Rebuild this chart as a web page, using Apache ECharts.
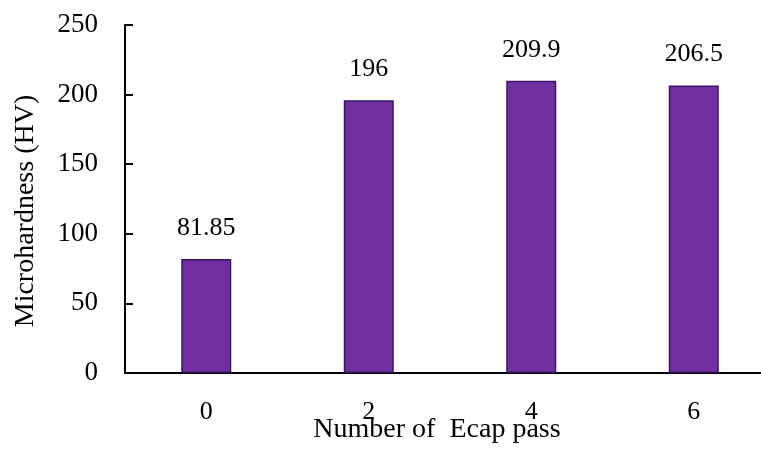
<!DOCTYPE html>
<html>
<head>
<meta charset="utf-8">
<script src="https://cdn.jsdelivr.net/npm/echarts@6/dist/echarts.min.js"></script>
<style>
  html, body { margin: 0; padding: 0; background: #fff; }
  #chart { width: 761px; height: 450px; }
</style>
</head>
<body>
<div id="chart"></div>
<script>
// Microhardness after successive ECAP passes
const passes = ['0', '2', '4', '6'];
const hardness = [81.85, 196, 209.9, 206.5];
const yTicks = [0, 50, 100, 150, 200, 250];

const FONT = '"Liberation Serif", "Times New Roman", serif';

const chart = echarts.init(document.getElementById('chart'), null, { renderer: 'canvas' });
chart.setOption({
  animation: false,
  backgroundColor: '#ffffff',
  grid: {
    left: 125, top: 25, width: 650, bottom: 77,
    containLabel: false,
    outerBoundsMode: 'none'
  },
  xAxis: {
    type: 'category',
    data: passes,
    name: 'Number of  Ecap pass',
    nameLocation: 'middle',
    nameGap: 43,
    nameMoveOverlap: false,
    nameTextStyle: { fontFamily: FONT, fontSize: 28, color: '#000', padding: [0, 26, 0, 0] },
    axisLine: { lineStyle: { color: '#000', width: 2 } },
    axisTick: { show: false },
    axisLabel: { fontFamily: FONT, fontSize: 26, color: '#000', margin: 26 }
  },
  yAxis: {
    type: 'value',
    min: yTicks[0],
    max: yTicks[yTicks.length - 1],
    interval: yTicks[1] - yTicks[0],
    name: 'Microhardness (HV)',
    nameLocation: 'middle',
    nameGap: 85,
    nameMoveOverlap: false,
    nameRotate: 90,
    nameTextStyle: { fontFamily: FONT, fontSize: 28, color: '#000', padding: [0, 24, 0, 0] },
    axisLine: { show: true, lineStyle: { color: '#000', width: 2 } },
    axisTick: { show: true, inside: true, length: 8, lineStyle: { color: '#000', width: 2 } },
    splitLine: { show: false },
    axisLabel: { fontFamily: FONT, fontSize: 27, color: '#000', margin: 27 }
  },
  series: [{
    type: 'bar',
    data: hardness,
    barWidth: 50,
    itemStyle: { color: '#7030a0', borderColor: '#3a1566', borderWidth: 1.5 },
    label: {
      show: true,
      position: 'top',
      distance: 18,
      fontFamily: FONT,
      fontSize: 26,
      color: '#000',
      formatter: p => String(hardness[p.dataIndex])
    }
  }]
});
</script>
</body>
</html>
